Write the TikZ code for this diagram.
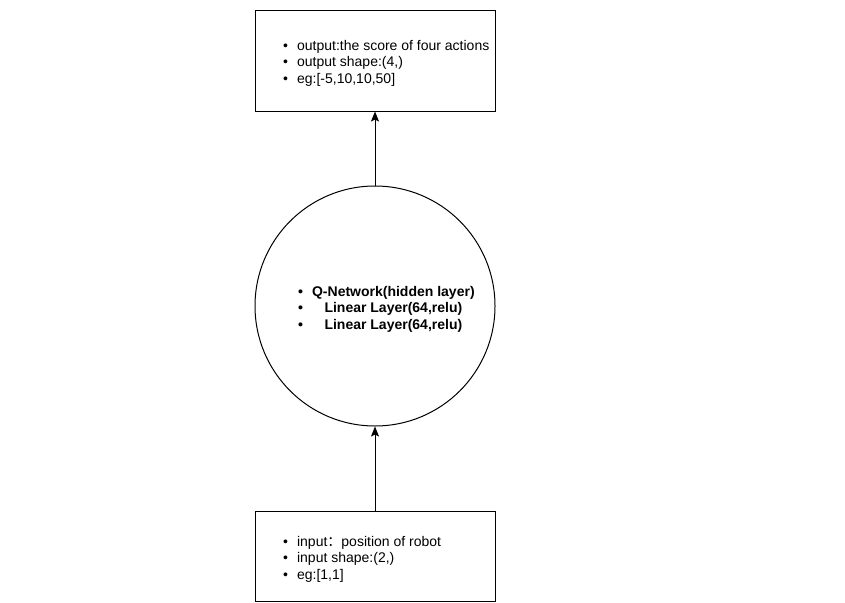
\documentclass[tikz,border=0pt]{standalone}
\usepackage{fontspec}
\setmainfont{Liberation Sans}
\newfontfamily\cjk{Noto Sans CJK SC}
\usetikzlibrary{arrows.meta}

\tikzset{
  blockbox/.style={draw, line width=1pt, minimum width=240pt, minimum height=100pt, inner sep=0pt},
  netcircle/.style={draw, circle, line width=1pt, minimum size=240pt, inner sep=0pt},
  itemtext/.style={anchor=west, inner sep=0pt, font=\fontsize{14}{16.5}\selectfont},
  arrow/.style={line width=1pt, -{Stealth[length=10pt,width=8pt,inset=2pt]}}
}

\begin{document}
\begin{tikzpicture}[x=1pt,y=-1pt]
\useasboundingbox (0,0) rectangle (845,602);
% boxes and the network
\node[blockbox] (output) at (375,61){};
\node[netcircle] (qnet) at (375,306){};
\node[blockbox, minimum height=90pt] (input) at (375,556){};
% texts
\node[itemtext] (outputtext) at (283,63.5){\begin{tabular}{@{}l@{\hspace{9pt}}l@{}}
\textbullet & output:the score of four actions\\
\textbullet & output shape:(4,)\\
\textbullet & eg:[-5,10,10,50]
\end{tabular}};
\node[itemtext, font=\fontsize{14}{16.5}\selectfont\bfseries] (qnettext) at (298,309.5){\begin{tabular}{@{}l@{\hspace{9pt}}c@{}}
\textbullet & Q-Network(hidden layer)\\
\textbullet & Linear Layer(64,relu)\\
\textbullet & Linear Layer(64,relu)
\end{tabular}};
\node[itemtext] (inputtext) at (283,559.5){\begin{tabular}{@{}l@{\hspace{9pt}}l@{}}
\textbullet & input{\cjk ：}position of robot\\
\textbullet & input shape:(2,)\\
\textbullet & eg:[1,1]
\end{tabular}};
% connectors
\draw[arrow] (qnet) -- (output);
\draw[arrow] (input) -- (qnet);
\end{tikzpicture}
\end{document}
